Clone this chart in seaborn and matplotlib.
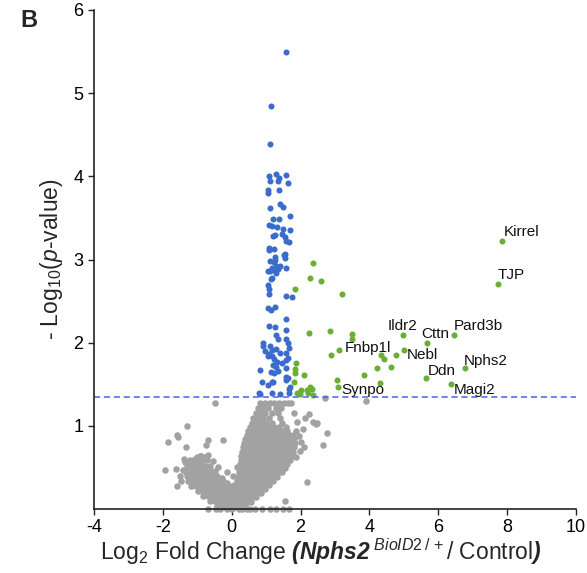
import numpy as np
import pandas as pd
import matplotlib.pyplot as plt
import seaborn as sns

# significant, small fold change (blue)
blue_pts = [(1.59, 5.49), (1.14, 4.85), (1.10, 4.39), (1.07, 4.00), (1.30, 4.03), (1.38, 3.98),
            (1.57, 4.02), (1.10, 3.94), (1.35, 3.94), (1.63, 3.92), (1.06, 3.84), (1.06, 3.80),
            (1.38, 3.83), (1.11, 3.62), (1.40, 3.67), (1.49, 3.63), (1.21, 3.49), (1.36, 3.49),
            (1.68, 3.52), (1.09, 3.41), (1.18, 3.40), (1.32, 3.39), (1.49, 3.37), (1.68, 3.35),
            (1.19, 3.28), (1.27, 3.29), (1.45, 3.31), (1.54, 3.27), (1.59, 3.22), (1.67, 3.21),
            (1.07, 3.14), (1.07, 3.11), (1.23, 3.13), (1.54, 3.07), (1.27, 3.03), (1.11, 2.98),
            (1.23, 2.97), (1.59, 2.90), (1.04, 2.86), (1.11, 2.86), (1.23, 2.87), (1.28, 2.84),
            (1.34, 2.88), (1.40, 2.92), (1.15, 2.77), (1.05, 2.69), (1.07, 2.64), (1.07, 2.58),
            (1.59, 2.56), (1.74, 2.55), (1.05, 2.42), (1.15, 2.39), (1.27, 2.43), (1.59, 2.29),
            (1.09, 2.20), (1.25, 2.19), (1.59, 2.15), (1.30, 2.09), (1.35, 2.04), (1.59, 2.04),
            (1.64, 2.00), (0.92, 2.00), (0.90, 1.96), (1.11, 1.96), (1.17, 1.91), (0.97, 1.90),
            (1.30, 1.92), (1.40, 1.87), (1.57, 1.88), (1.07, 1.86), (1.16, 1.84), (1.04, 1.84),
            (1.23, 1.80), (1.32, 1.77), (1.19, 1.73), (1.28, 1.71), (1.47, 1.76), (1.57, 1.79),
            (1.64, 1.82), (1.57, 1.70), (1.64, 1.57), (1.59, 1.55), (0.81, 1.67), (1.14, 1.65),
            (1.33, 1.66), (0.87, 1.53), (1.17, 1.53), (1.05, 1.49), (1.65, 1.44), (1.67, 1.40),
            (0.79, 1.39), (0.83, 1.38), (1.18, 1.40), (1.40, 1.38), (1.24, 1.64), (1.21, 1.53),
            (1.57, 1.59), (1.68, 1.47), (1.26, 3.00), (1.53, 3.06), (1.55, 3.02), (1.16, 2.90),
            (1.30, 2.92), (1.66, 1.94), (1.16, 2.78)]

# significant, larger fold change (green)
green_pts = [(2.36, 2.96), (2.28, 2.78), (2.59, 2.74), (1.84, 2.64), (3.20, 2.58), (2.25, 2.12),
             (2.85, 2.14), (3.50, 2.10), (3.50, 2.04), (2.87, 1.85), (4.33, 1.85), (4.41, 1.80),
             (4.76, 1.85), (4.63, 1.71), (4.22, 1.69), (3.85, 1.61), (3.05, 1.55), (4.31, 1.52),
             (1.86, 1.75), (1.84, 1.68), (1.84, 1.63), (2.10, 1.61), (1.81, 1.53), (2.27, 1.47),
             (2.33, 1.44), (2.22, 1.40), (2.00, 1.43), (1.91, 1.39), (2.18, 1.43), (2.35, 1.37),
             (1.99, 1.38)]

# labelled genes
gene_names = ["Kirrel", "TJP", "Pard3b", "Cttn", "Ildr2", "Nebl", "Nphs2", "Ddn", "Magi2", "Fnbp1l", "Synpo"]
gene_x = [7.84, 7.72, 6.47, 5.67, 4.97, 5.00, 6.78, 5.65, 6.37, 3.12, 3.10]
gene_y = [3.22, 2.70, 2.09, 1.99, 2.09, 1.91, 1.69, 1.57, 1.50, 1.91, 1.47]

# not significant (grey): scattered points
grey_pts = [(-0.49, 1.28), (-1.30, 1.00), (-1.60, 0.89), (-1.56, 0.87), (-1.86, 0.80), (-1.32, 0.75),
            (-0.68, 0.83), (-0.75, 0.77), (-0.24, 0.83), (-0.92, 0.64), (-0.70, 0.65), (-0.79, 0.63),
            (-1.38, 0.60), (-1.31, 0.56), (-1.95, 0.47), (-1.63, 0.48), (-1.58, 0.28), (-1.46, 0.34),
            (-1.33, 0.45), (-1.27, 0.39), (-1.08, 0.50), (-0.98, 0.55), (-0.87, 0.54), (-0.93, 0.47),
            (-1.06, 0.60), (-1.00, 0.62), (-0.89, 0.64), (-1.36, 0.57), (-1.41, 0.47), (-1.17, 0.53),
            (-0.27, 0.37), (-0.13, 0.31), (-0.03, 0.27), (0.08, 0.29), (0.16, 0.51),
            (2.70, 1.33), (3.90, 1.30), (2.25, 1.14), (2.35, 1.05), (2.45, 1.02), (2.49, 1.03),
            (2.78, 0.91), (2.64, 0.77), (2.07, 0.96), (1.81, 1.15), (2.19, 0.33), (1.54, 0.10),
            (1.95, 0.88), (2.02, 0.80), (1.98, 0.70), (2.10, 0.75), (1.90, 1.05), (2.12, 1.10),
            (1.88, 0.62), (-0.55, 0.58), (-0.40, 0.50), (-0.15, 0.45), (0.05, 0.40), (-1.50, 0.40),
            (-0.70, 0.0), (-0.47, 0.0), (-0.33, 0.0), (-0.13, 0.0), (0.02, 0.0), (0.22, 0.0),
            (0.30, 0.0), (0.45, 0.0), (0.53, 0.0), (0.67, 0.0), (0.87, 0.0), (1.10, 0.0),
            (1.30, 0.0), (1.50, 0.0), (1.65, 0.0)]

# not significant (grey): the dense cloud, read row by row (y, x values)
grey_rows = [
    (0.59, [-1.22, -1.09, -0.96, -0.83, -0.72]),
    (0.52, [-1.29, -1.16, -1.03, -0.91, -0.77, -0.63]),
    (0.46, [-1.37, -1.24, -1.12, -0.99, -0.86, -0.74, -0.61, -0.49]),
    (0.40, [-1.31, -1.19, -1.06, -0.94, -0.82, -0.69, -0.56, -0.44]),
    (0.34, [-1.27, -1.14, -1.01, -0.88, -0.76, -0.63, -0.51, -0.38, -0.24]),
    (0.28, [-1.18, -1.04, -0.92, -0.80, -0.68, -0.56, -0.44, -0.32, -0.19, -0.06]),
    (0.22, [-0.98, -0.86, -0.73, -0.61, -0.49, -0.37, -0.25, -0.12, 0.00]),
    (0.16, [-0.82, -0.70, -0.58, -0.46, -0.34, -0.22, -0.10, 0.02]),
    (0.10, [-0.62, -0.50, -0.38, -0.26, -0.14, -0.03, 0.08]),
    (0.05, [-0.42, -0.30, -0.18, -0.07, 0.04, 0.14]),
    (0.02, [-0.22, -0.10, 0.01, 0.12, 0.22]),
    (0.04, [0.06, 0.17, 0.27, 0.38]),
    (0.09, [0.13, 0.23, 0.34, 0.44, 0.55]),
    (0.14, [0.09, 0.19, 0.29, 0.40, 0.50, 0.61, 0.71]),
    (0.19, [0.11, 0.21, 0.31, 0.42, 0.52, 0.63, 0.73, 0.86]),
    (0.24, [0.12, 0.23, 0.33, 0.44, 0.54, 0.65, 0.75, 0.86, 0.97]),
    (0.29, [0.15, 0.25, 0.36, 0.46, 0.57, 0.67, 0.78, 0.88, 0.99, 1.09]),
    (0.34, [0.16, 0.27, 0.37, 0.48, 0.58, 0.69, 0.79, 0.90, 1.00, 1.11, 1.21]),
    (0.39, [0.18, 0.29, 0.39, 0.50, 0.60, 0.71, 0.81, 0.92, 1.02, 1.13, 1.23, 1.32]),
    (0.44, [0.20, 0.31, 0.41, 0.52, 0.62, 0.73, 0.83, 0.94, 1.04, 1.15, 1.25, 1.36, 1.45]),
    (0.49, [0.22, 0.32, 0.43, 0.53, 0.64, 0.74, 0.85, 0.95, 1.06, 1.16, 1.27, 1.37, 1.48, 1.55]),
    (0.54, [0.24, 0.34, 0.45, 0.55, 0.66, 0.76, 0.87, 0.97, 1.08, 1.18, 1.29, 1.39, 1.50, 1.60]),
    (0.59, [0.26, 0.36, 0.47, 0.57, 0.68, 0.78, 0.89, 0.99, 1.10, 1.20, 1.31, 1.41, 1.52, 1.62, 1.70]),
    (0.64, [0.27, 0.38, 0.48, 0.59, 0.69, 0.80, 0.90, 1.01, 1.11, 1.22, 1.32, 1.43, 1.53, 1.64, 1.74]),
    (0.69, [0.30, 0.40, 0.51, 0.61, 0.72, 0.82, 0.93, 1.03, 1.14, 1.24, 1.35, 1.45, 1.56, 1.66, 1.77]),
    (0.74, [0.33, 0.43, 0.54, 0.64, 0.75, 0.85, 0.96, 1.06, 1.17, 1.27, 1.38, 1.48, 1.59, 1.69, 1.80]),
    (0.79, [0.37, 0.47, 0.58, 0.68, 0.79, 0.89, 1.00, 1.10, 1.21, 1.31, 1.42, 1.52, 1.63, 1.73, 1.84]),
    (0.84, [0.40, 0.51, 0.61, 0.72, 0.82, 0.93, 1.03, 1.14, 1.26, 1.40, 1.55, 1.68, 1.80]),
    (0.89, [0.44, 0.55, 0.65, 0.76, 0.86, 0.97, 1.07, 1.18, 1.33, 1.50, 1.66, 1.78]),
    (0.94, [0.48, 0.59, 0.69, 0.80, 0.90, 1.01, 1.12, 1.28, 1.46, 1.62, 1.88]),
    (0.99, [0.53, 0.66, 0.78, 0.90, 1.06, 1.22, 1.38, 1.57]),
    (1.04, [0.58, 0.72, 0.84, 1.00, 1.16, 1.47]),
    (1.09, [0.63, 0.76, 0.92, 1.08, 1.40]),
    (1.15, [0.70, 0.84, 0.98, 1.18, 1.33]),
    (1.21, [0.76, 0.90, 1.06, 1.29, 1.44]),
    (1.27, [0.83, 0.97, 1.10, 1.24, 1.38, 1.51, 1.64, 1.73]),
]

cutoff = 1.35
x_ticks = [-4, -2, 0, 2, 4, 6, 8, 10]
y_ticks = [1, 2, 3, 4, 5, 6]

# label offsets in pixels (dx, dy)
label_offsets = [(2, 9), (0, 9), (-1, 9), (-6, 9), (-15, 9), (3, -5), (-1, 7), (2, 7), (3, -6), (6, 2), (3, -3)]

grey = pd.DataFrame(grey_pts + [(x, y) for y, xs in grey_rows for x in xs], columns=["lfc", "nlp"])
blue = pd.DataFrame(blue_pts, columns=["lfc", "nlp"])
green = pd.DataFrame(green_pts + list(zip(gene_x, gene_y)), columns=["lfc", "nlp"])

sns.set_style("ticks")
plt.rcParams['font.family'] = ['Liberation Sans', 'DejaVu Sans']
plt.rcParams['axes.unicode_minus'] = False
plt.rcParams['mathtext.fontset'] = 'custom'
plt.rcParams['mathtext.rm'] = 'Liberation Sans'
plt.rcParams['mathtext.it'] = 'Liberation Sans:italic'
plt.rcParams['mathtext.bf'] = 'Liberation Sans:bold'
plt.rcParams['mathtext.bfit'] = 'Liberation Sans:italic:bold'

fig = plt.figure(figsize=(5.87, 5.73), dpi=100)
ax = fig.add_axes([94 / 587, 64 / 573, 482 / 587, 499 / 573])

sns.scatterplot(data=grey, x="lfc", y="nlp", color="#a2a2a2", s=22, linewidth=0, ax=ax, clip_on=False)
ax.axhline(cutoff, color="#4f5df2", lw=1.1, ls=(0, (4, 2.5)))
sns.scatterplot(data=blue, x="lfc", y="nlp", color="#3a6ccc", s=19, linewidth=0, ax=ax)
sns.scatterplot(data=green, x="lfc", y="nlp", color="#6aaf34", s=19, linewidth=0, ax=ax)

for name, x, y, off in zip(gene_names, gene_x, gene_y, label_offsets):
    ax.annotate(name, (x, y), xytext=off, textcoords="offset pixels",
                ha="left", va="center", fontsize=11, color="#111111")

ax.set_xlim(-4, 10)
ax.set_ylim(0, 6)
ax.set_xticks(x_ticks)
ax.set_yticks(y_ticks)
ax.tick_params(labelsize=13, length=4, width=1, colors="#222222", labelcolor="black")
sns.despine(ax=ax)
for s in ["left", "bottom"]:
    ax.spines[s].set_linewidth(1.2)
    ax.spines[s].set_color("#222222")

ax.set_xlabel(r"Log$_2$ Fold Change $\mathbfit{(Nphs2}^{\mathit{\ BioID2\,/\,+}}$/ Control$\mathbfit{)}$",
              fontsize=16.5)
ax.xaxis.set_label_coords(0.47, -0.055)
ax.set_ylabel(r"- Log$_{10}$($\mathit{p}$-value)", fontsize=16.5, labelpad=6)

fig.text(0.05, 0.965, "B", fontsize=17, fontweight="bold", ha="center", va="center")

plt.savefig("out.png", dpi=100)
